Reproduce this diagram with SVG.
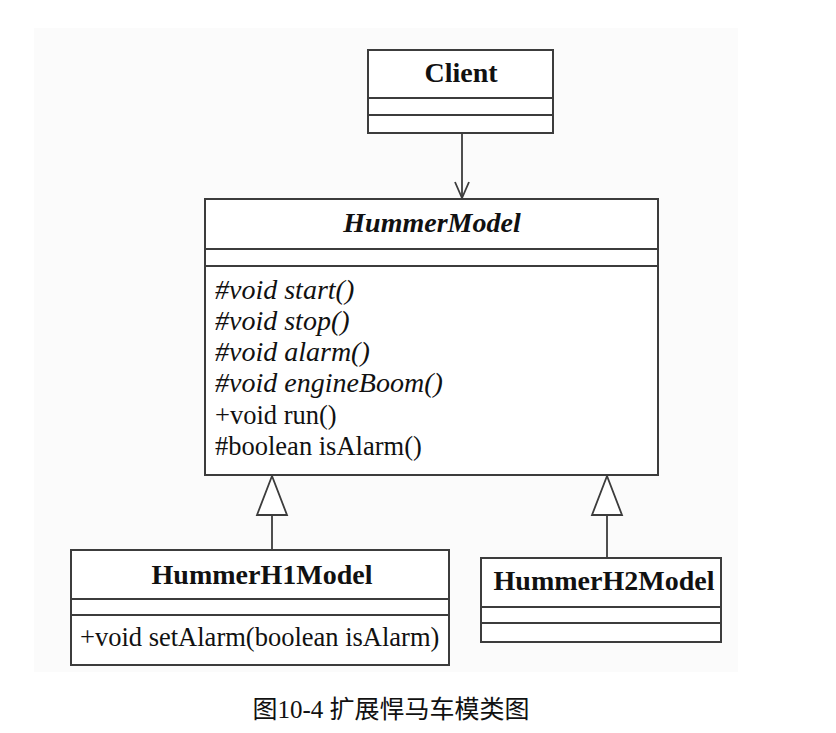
<svg xmlns="http://www.w3.org/2000/svg" width="836" height="733" viewBox="0 0 836 733">
  <style>
    .box { fill: #ffffff; stroke: #3c3c3c; stroke-width: 2; }
    .div { stroke: #3c3c3c; stroke-width: 2; fill: none; }
    .edge { stroke: #3c3c3c; stroke-width: 1.8; fill: none; }
    .tri { stroke: #3c3c3c; stroke-width: 1.8; fill: #ffffff; }
    .name { font-family: "Liberation Serif", "Times New Roman", serif; font-size: 28px; font-weight: bold; fill: #111; text-anchor: middle; }
    .abs { font-style: italic; }
    .op { font-family: "Liberation Serif", "Times New Roman", serif; font-size: 26.5px; fill: #111; }
    .opi { font-style: italic; font-size: 28px; }
    .cap { font-family: "Liberation Serif", "Noto Sans CJK SC", serif; font-size: 25px; fill: #111; text-anchor: middle; }
  </style>
  <rect x="0" y="0" width="836" height="733" fill="#ffffff"/>
  <rect x="34" y="28" width="704" height="644" fill="#fbfbfb"/>

  <g id="connectors">
    <line class="edge" x1="462" y1="133" x2="462" y2="198"/>
    <polyline class="edge" points="455,182 462,198 469,182"/>
    <line class="edge" x1="272" y1="515" x2="272" y2="550"/>
    <polygon class="tri" points="272,476 257,515 287,515"/>
    <line class="edge" x1="607" y1="515" x2="607" y2="558"/>
    <polygon class="tri" points="607,476 592,515 622,515"/>
  </g>

  <g id="client">
    <rect class="box" x="368" y="50" width="185" height="83"/>
    <line class="div" x1="368" y1="98" x2="553" y2="98"/>
    <line class="div" x1="368" y1="115" x2="553" y2="115"/>
    <text class="name" x="461" y="82">Client</text>
  </g>

  <g id="hummerModel">
    <rect class="box" x="205" y="199" width="453" height="276"/>
    <line class="div" x1="205" y1="249" x2="658" y2="249"/>
    <line class="div" x1="205" y1="266" x2="658" y2="266"/>
    <text class="name abs" x="432" y="232">HummerModel</text>
    <text class="op opi" x="215" y="299">#void start()</text>
    <text class="op opi" x="215" y="330">#void stop()</text>
    <text class="op opi" x="215" y="361">#void alarm()</text>
    <text class="op opi" x="215" y="392">#void engineBoom()</text>
    <text class="op" x="215" y="424">+void run()</text>
    <text class="op" x="215" y="455">#boolean isAlarm()</text>
  </g>

  <g id="hummerH1Model">
    <rect class="box" x="71" y="550" width="378" height="115"/>
    <line class="div" x1="71" y1="599" x2="449" y2="599"/>
    <line class="div" x1="71" y1="615" x2="449" y2="615"/>
    <text class="name" x="262" y="584">HummerH1Model</text>
    <text class="op" x="80" y="646">+void setAlarm(boolean isAlarm)</text>
  </g>

  <g id="hummerH2Model">
    <rect class="box" x="481" y="558" width="240" height="84"/>
    <line class="div" x1="481" y1="607" x2="721" y2="607"/>
    <line class="div" x1="481" y1="623" x2="721" y2="623"/>
    <text class="name" x="604" y="590">HummerH2Model</text>
  </g>

  <text class="cap" x="391" y="718">图10-4 扩展悍马车模类图</text>
</svg>
